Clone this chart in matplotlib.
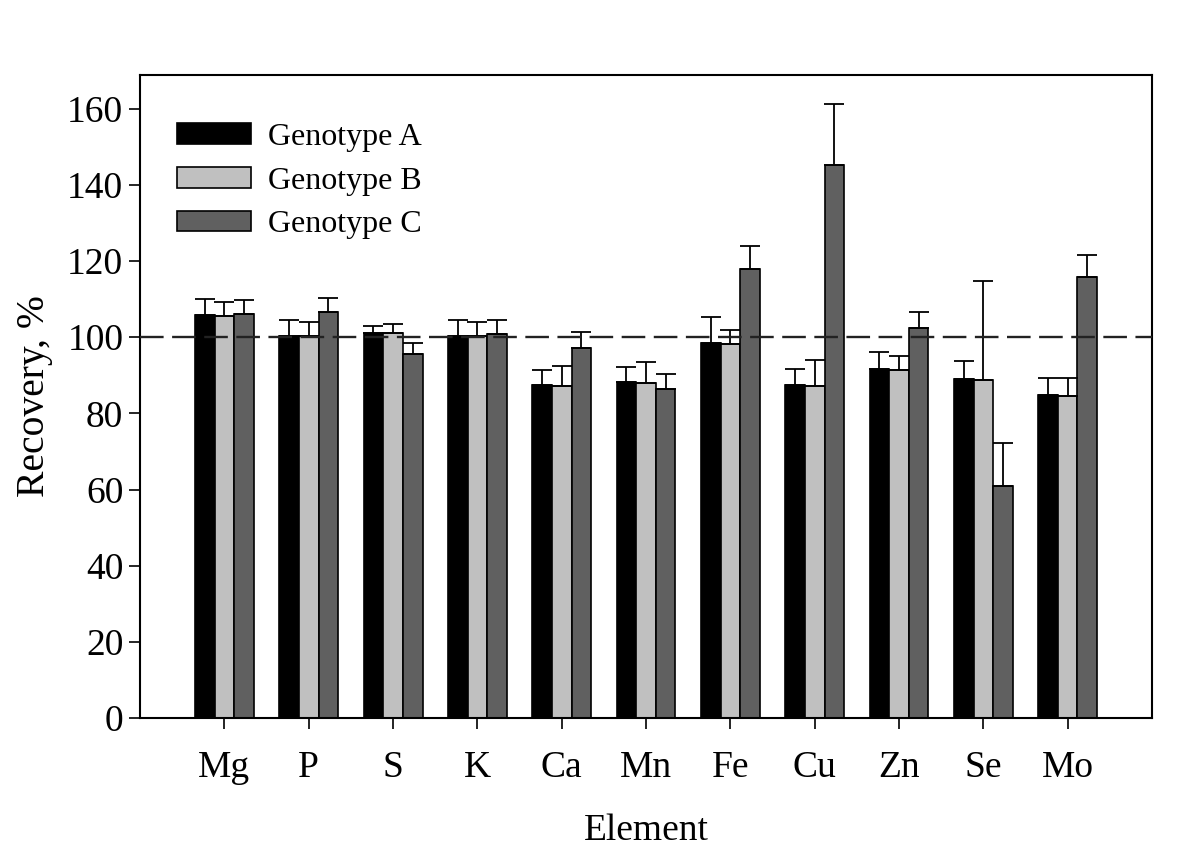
import matplotlib.pyplot as plt
import numpy as np

elements = ['Mg', 'P', 'S', 'K', 'Ca', 'Mn', 'Fe', 'Cu', 'Zn', 'Se', 'Mo']
genotype_a = [105.9, 100.4, 101.2, 100.4, 87.4, 88.2, 98.4, 87.5, 91.7, 89.0, 84.8]
genotype_b = [105.6, 100.3, 101.0, 100.3, 87.2, 87.9, 98.3, 87.3, 91.4, 88.8, 84.6]
genotype_c = [106.1, 106.6, 95.6, 100.9, 97.3, 86.5, 118.0, 145.3, 102.4, 61.0, 115.8]
err_a = [4.1, 4.2, 1.7, 4.1, 3.9, 4.0, 6.9, 4.1, 4.4, 4.8, 4.4]
err_b = [3.7, 3.7, 2.5, 3.7, 5.3, 5.5, 3.7, 6.8, 3.6, 25.9, 4.8]
err_c = [3.7, 3.7, 3.0, 3.7, 4.1, 3.9, 6.0, 16.0, 4.2, 11.3, 5.9]

plt.rcParams['font.family'] = ['Liberation Serif', 'DejaVu Serif']

fig = plt.figure(figsize=(12, 8.6), dpi=100)
ax = fig.add_axes([0.1167, 0.165, 0.8433, 0.748])

x = np.arange(len(elements))
w = 0.233
zeros = np.zeros(len(x))
err_style = dict(ecolor='black', elinewidth=1.3, capsize=7, capthick=1.3)
ax.bar(x - w, genotype_a, w, color='black', edgecolor='black', linewidth=1.2,
       yerr=[zeros, err_a], error_kw=err_style, label='Genotype A')
ax.bar(x, genotype_b, w, color='#c0c0c0', edgecolor='black', linewidth=1.2,
       yerr=[zeros, err_b], error_kw=err_style, label='Genotype B')
ax.bar(x + w, genotype_c, w, color='#606060', edgecolor='black', linewidth=1.2,
       yerr=[zeros, err_c], error_kw=err_style, label='Genotype C')

# reference line at 100 %
ax.axhline(100, color='#222222', linewidth=1.7, dashes=(10, 3.6), zorder=3)

ax.set_xlim(-1, 11)
ax.set_ylim(0, 168.9)
ax.set_yticks(range(0, 161, 20))
ax.set_xticks(x)
ax.set_xticklabels(elements)
ax.tick_params(axis='both', direction='out', length=8, width=1.2, labelsize=27)
ax.tick_params(axis='y', pad=4)
ax.tick_params(axis='x', pad=15)
for s in ax.spines.values():
    s.set_linewidth(1.5)

ax.set_xlabel('Element', fontsize=27, labelpad=21)
ax.set_ylabel('Recovery, %', fontsize=28.5, labelpad=10)

ax.legend(loc='upper left', frameon=False, fontsize=23, handlelength=2.3,
          handleheight=0.62, handletextpad=0.55, labelspacing=0.46,
          bbox_to_anchor=(0.024, 0.945), borderaxespad=0)

plt.savefig('out.png', dpi=100)
